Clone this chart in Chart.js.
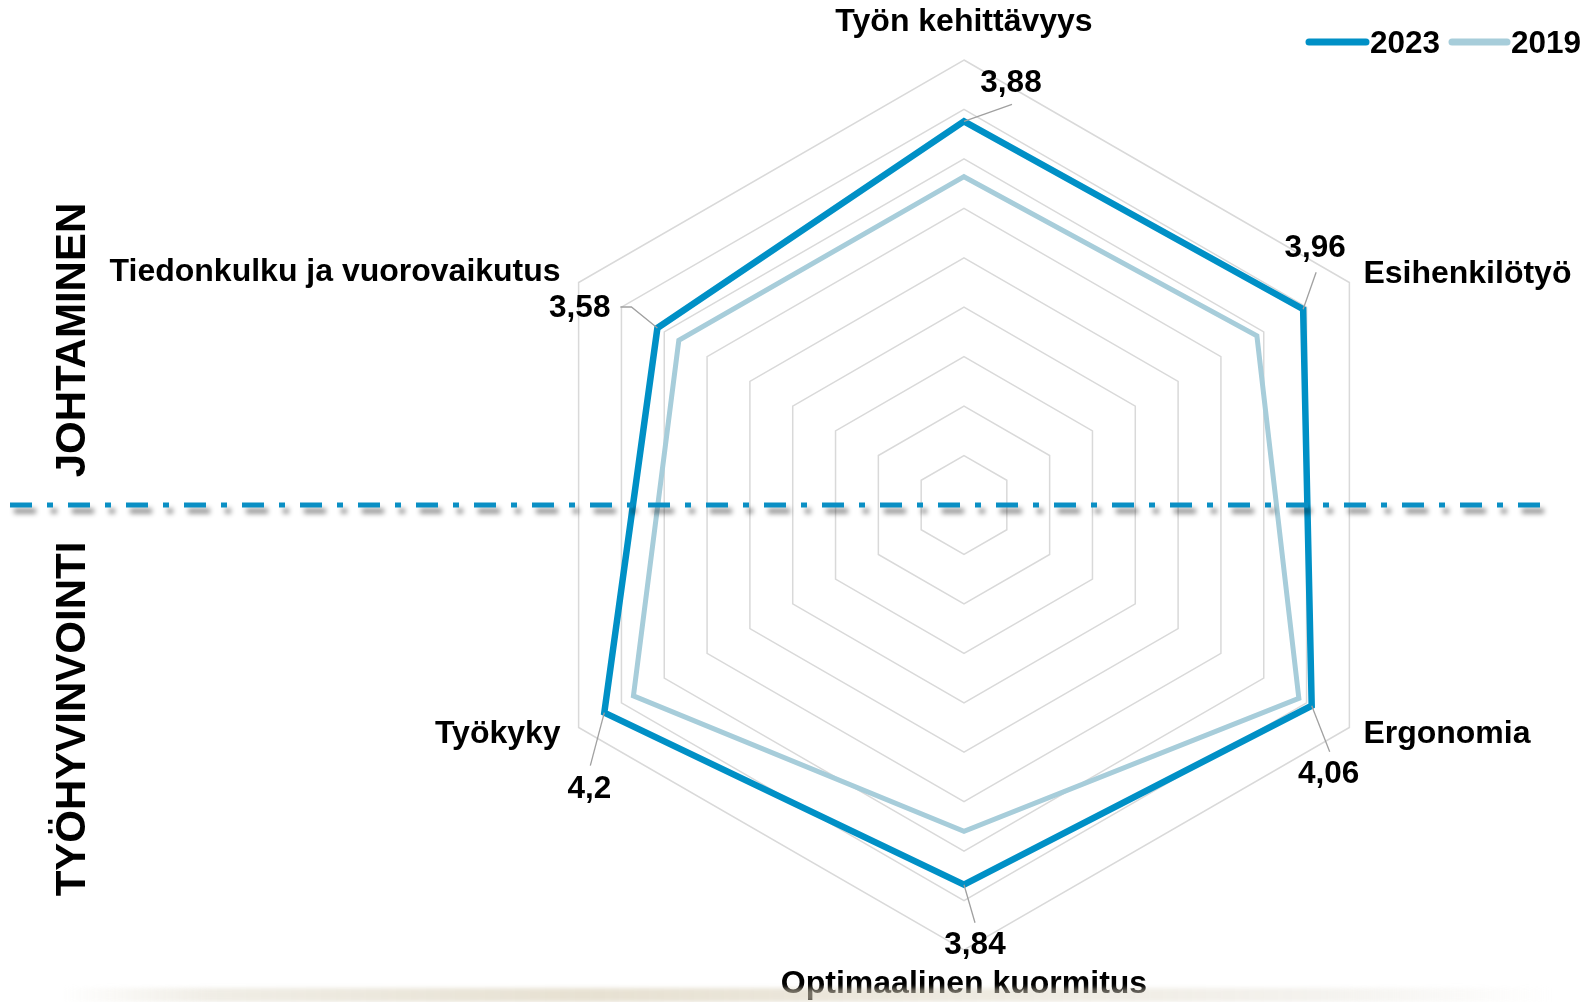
<!DOCTYPE html>
<html><head><meta charset="utf-8">
<script src="https://cdn.jsdelivr.net/npm/chart.js@4.4.0/dist/chart.umd.min.js"></script>
<style>
html,body{margin:0;padding:0;background:#fff;overflow:hidden}
#wrap{position:relative;width:1582px;height:1002px}
canvas{display:block}
#floor{position:absolute;left:60px;right:30px;bottom:0;height:14px;
background:linear-gradient(90deg,rgba(225,222,215,0) 0%,rgba(225,220,205,0.5) 10%,rgba(215,205,180,0.6) 35%,rgba(220,212,192,0.5) 60%,rgba(228,224,214,0.4) 85%,rgba(235,232,226,0) 100%);
filter:blur(2px)}
</style></head><body>
<div id="wrap"><canvas id="c" width="1582" height="1002"></canvas><div id="floor"></div></div>
<script>
const categories = ['Työn kehittävyys','Esihenkilötyö','Ergonomia','Optimaalinen kuormitus','Työkyky','Tiedonkulku ja vuorovaikutus'];
const values2023 = [3.88, 3.96, 4.06, 3.84, 4.2, 3.58];
const values2019 = [3.32, 3.42, 3.91, 3.30, 3.86, 3.33];
const valueLabels2023 = ['3,88', '3,96', '4,06', '3,84', '4,2', '3,58'];
const seriesNames = ['2023', '2019'];
const sectionTitles = ['JOHTAMINEN', 'TYÖHYVINVOINTI'];
const scaleMin = 0, scaleMax = 4.5, scaleStep = 0.5;

const COL23 = '#0090c6', COL19 = '#a7cdda';
const FONT = '"Liberation Sans", Arial, sans-serif';

// label placement relative to outer vertex
const axisLabelPos = [
  {dx: 0, dy: -38, align: 'center'},
  {dx: 14, dy: -8, align: 'left'},
  {dx: 14, dy: 7, align: 'left'},
  {dx: 0, dy: 34, align: 'center'},
  {dx: -18, dy: 7, align: 'right'},
  {dx: -18, dy: -10, align: 'right'}
];
// value label leaders relative to data point
const valuePos = [
  {pts: [[48, -17]], tx: 47, ty: -38, align: 'center'},
  {pts: [[13, -37]], tx: 12, ty: -61, align: 'center'},
  {pts: [[18, 46]], tx: 17, ty: 69, align: 'center'},
  {pts: [[11, 38]], tx: 11, ty: 61, align: 'center'},
  {pts: [[-14, 53]], tx: -15, ty: 77, align: 'center'},
  {pts: [[-26, -21], [-37, -21]], tx: -47, ty: -20, align: 'right'}
];

const decor = {
  id: 'decor',
  afterDatasetsDraw(chart) {
    const ctx = chart.ctx, s = chart.scales.r;
    ctx.save();
    // value labels with leader lines
    ctx.font = 'bold 31.5px ' + FONT;
    ctx.textBaseline = 'middle';
    values2023.forEach((v, i) => {
      const p = s.getPointPositionForValue(i, v);
      const cfg = valuePos[i];
      ctx.beginPath();
      ctx.moveTo(p.x, p.y);
      cfg.pts.forEach(([dx, dy]) => ctx.lineTo(p.x + dx, p.y + dy));
      ctx.strokeStyle = '#a0a0a0';
      ctx.lineWidth = 1.3;
      ctx.stroke();
      ctx.fillStyle = '#000';
      ctx.textAlign = cfg.align;
      ctx.fillText(valueLabels2023[i], p.x + cfg.tx, p.y + cfg.ty);
    });
    // axis labels
    ctx.font = 'bold 32px ' + FONT;
    categories.forEach((c, i) => {
      const p = s.getPointPosition(i, s.drawingArea);
      const cfg = axisLabelPos[i];
      ctx.textAlign = cfg.align;
      ctx.fillText(c, p.x + cfg.dx, p.y + cfg.dy);
    });
    // dash-dot divider with shadow
    ctx.save();
    ctx.shadowColor = 'rgba(0,0,0,0.45)';
    ctx.shadowOffsetX = 4;
    ctx.shadowOffsetY = 6;
    ctx.shadowBlur = 5;
    ctx.setLineDash([22, 15, 6, 15]);
    ctx.lineWidth = 5;
    ctx.strokeStyle = '#0a8fc4';
    ctx.beginPath();
    ctx.moveTo(10, s.yCenter);
    ctx.lineTo(1549, s.yCenter);
    ctx.stroke();
    ctx.restore();
    // section titles
    ctx.font = 'bold 42px ' + FONT;
    ctx.fillStyle = '#000';
    ctx.textAlign = 'center';
    ctx.textBaseline = 'alphabetic';
    [[sectionTitles[0], 340], [sectionTitles[1], 719]].forEach(([t, y]) => {
      ctx.save();
      ctx.translate(85, y);
      ctx.rotate(-Math.PI / 2);
      ctx.fillText(t, 0, 0);
      ctx.restore();
    });
    // legend
    ctx.font = 'bold 31.5px ' + FONT;
    ctx.textBaseline = 'middle';
    ctx.textAlign = 'left';
    ctx.lineCap = 'round';
    [[COL23, 1309, 1366, seriesNames[0], 1370], [COL19, 1452, 1507, seriesNames[1], 1511]].forEach(([col, x1, x2, t, tx]) => {
      ctx.beginPath();
      ctx.moveTo(x1, 42);
      ctx.lineTo(x2, 42);
      ctx.strokeStyle = col;
      ctx.lineWidth = 7;
      ctx.stroke();
      ctx.fillStyle = '#000';
      ctx.fillText(t, tx, 44);
    });
    ctx.restore();
  }
};

new Chart(document.getElementById('c'), {
  type: 'radar',
  data: {
    labels: categories,
    datasets: [
      {label: seriesNames[0], data: values2023, borderColor: COL23, borderWidth: 6.5, pointRadius: 0, fill: false, borderJoinStyle: 'miter', tension: 0},
      {label: seriesNames[1], data: values2019, borderColor: COL19, borderWidth: 5, pointRadius: 0, fill: false, borderJoinStyle: 'miter', tension: 0}
    ]
  },
  options: {
    responsive: false,
    animation: false,
    devicePixelRatio: 1,
    layout: {padding: {left: 519, right: 173, top: 60, bottom: 52}},
    plugins: {legend: {display: false}, tooltip: {enabled: false}},
    scales: {
      r: {
        min: scaleMin, max: scaleMax,
        ticks: {display: false, stepSize: scaleStep},
        pointLabels: {display: false},
        angleLines: {display: false},
        grid: {color: '#d9d9d9', lineWidth: 1.5, circular: false}
      }
    }
  },
  plugins: [decor]
});
</script>
</body></html>
